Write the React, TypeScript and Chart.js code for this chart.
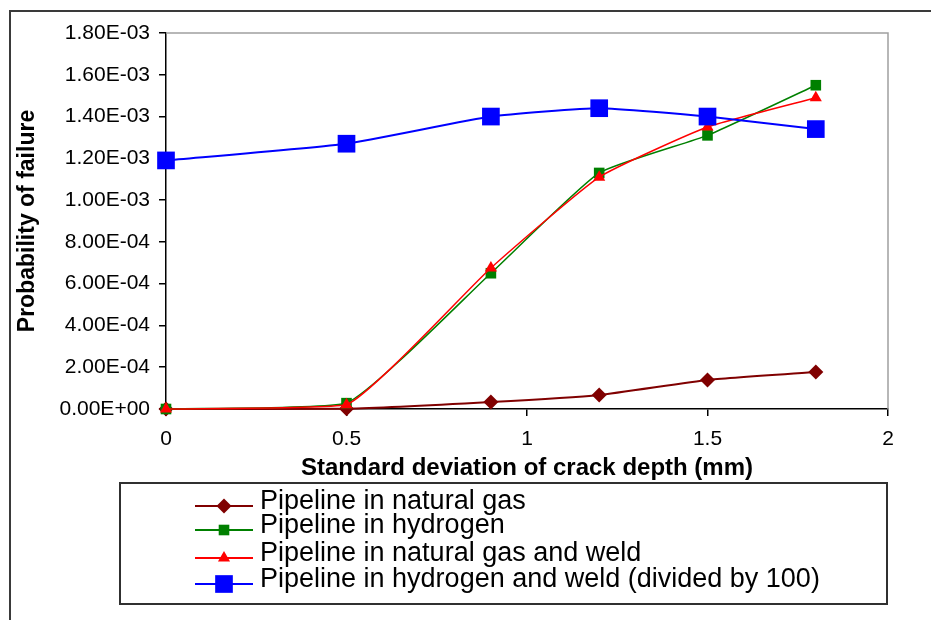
import React, { useEffect, useRef } from "react";
import { Chart, registerables } from "chart.js";
import { drawPoint } from "chart.js/helpers";

Chart.register(...registerables);

const xValues = [0, 0.5, 0.9, 1.2, 1.5, 1.8];
const naturalGas = [0, 0.000001, 0.000033, 0.000067, 0.000139, 0.000177];
const hydrogen = [0, 0.000028, 0.00065, 0.00113, 0.00131, 0.00155];
const naturalGasWeld = [0, 0.00002, 0.000675, 0.00111, 0.00135, 0.00149];
const hydrogenWeld = [0.00119, 0.00127, 0.0014, 0.00144, 0.0014, 0.00134];

const seriesLabels = [
  "Pipeline in natural gas",
  "Pipeline in hydrogen",
  "Pipeline in natural gas and weld",
  "Pipeline in hydrogen and weld (divided by 100)",
];
const xTicks = [0, 0.5, 1, 1.5, 2];
const yTickStep = 0.0002;
const yMax = 0.0018;
const xTitle = "Standard deviation of crack depth (mm)";
const yTitle = "Probability of failure";

const FONT = "'Liberation Sans', Arial, sans-serif";

function fmtExp(v: number): string {
  if (Math.abs(v) < 1e-12) return "0.00E+00";
  const s = v.toExponential(2);
  const [m, e] = s.split("e");
  const n = parseInt(e, 10);
  const sign = n < 0 ? "-" : "+";
  const d = String(Math.abs(n)).padStart(2, "0");
  return `${m}E${sign}${d}`;
}

const toPts = (ys: number[]) => xValues.map((x, i) => ({ x, y: ys[i] }));

const framePlugin = {
  id: "frame",
  beforeDraw(chart: any) {
    const ctx = chart.ctx;
    ctx.save();
    ctx.fillStyle = "#ffffff";
    ctx.fillRect(0, 0, chart.width, chart.height);
    ctx.strokeStyle = "#3a3a3a";
    ctx.lineWidth = 2;
    ctx.strokeRect(10, 11, 1000, 1000);
    ctx.restore();
  },
  beforeDatasetsDraw(chart: any) {
    const { ctx, chartArea } = chart;
    ctx.save();
    ctx.strokeStyle = "#a0a0a0";
    ctx.lineWidth = 1.5;
    ctx.beginPath();
    ctx.moveTo(chartArea.left, chartArea.top);
    ctx.lineTo(chartArea.right, chartArea.top);
    ctx.lineTo(chartArea.right, chartArea.bottom);
    ctx.stroke();
    ctx.restore();
  },
};

const legendPlugin = {
  id: "boxLegend",
  afterDraw(chart: any) {
    const ctx = chart.ctx;
    ctx.save();
    ctx.strokeStyle = "#303030";
    ctx.lineWidth = 2;
    ctx.strokeRect(120, 483, 767, 121);
    const rows = [506, 530, 558, 584];
    chart.data.datasets.forEach((ds: any, i: number) => {
      const y = rows[i];
      ctx.strokeStyle = ds.borderColor;
      ctx.lineWidth = 2;
      ctx.beginPath();
      ctx.moveTo(195, y);
      ctx.lineTo(253, y);
      ctx.stroke();
      ctx.fillStyle = ds.backgroundColor;
      ctx.strokeStyle = ds.borderColor;
      drawPoint(
        ctx,
        { pointStyle: ds.pointStyle, radius: ds.pointRadius, borderWidth: 0, rotation: 0 } as any,
        224,
        y
      );
      ctx.fillStyle = "#000";
      ctx.font = `27px ${FONT}`;
      ctx.textBaseline = "middle";
      ctx.textAlign = "left";
      ctx.fillText(ds.label, 260, y - 4);
    });
    ctx.restore();
  },
};

export default function App() {
  const ref = useRef<HTMLCanvasElement | null>(null);

  useEffect(() => {
    if (!ref.current) return;
    const mk = (
      label: string,
      data: number[],
      color: string,
      style: string,
      radius: number,
      width: number,
      order: number
    ) => ({
      label,
      data: toPts(data),
      borderColor: color,
      backgroundColor: color,
      pointStyle: style,
      pointRadius: radius,
      pointHoverRadius: radius,
      pointBorderWidth: 0,
      borderWidth: width,
      tension: 0.15,
      clip: false,
      order,
    });
    const chart = new Chart(ref.current, {
      type: "line",
      data: {
        datasets: [
          mk(seriesLabels[0], naturalGas, "#800000", "rectRot", 7.5, 2, 3),
          mk(seriesLabels[1], hydrogen, "#008000", "rect", 7.5, 1.5, 2),
          mk(seriesLabels[2], naturalGasWeld, "#ff0000", "triangle", 7, 1.5, 1),
          mk(seriesLabels[3], hydrogenWeld, "#0000ff", "rect", 12.5, 2, 0),
        ] as any,
      },
      options: {
        responsive: false,
        animation: false,
        events: [],
        layout: { padding: { left: 0, top: 33, right: 43, bottom: 137 } },
        plugins: {
          legend: { display: false },
          tooltip: { enabled: false },
        },
        scales: {
          x: {
            type: "linear",
            min: 0,
            max: 2,
            afterBuildTicks: (s: any) => {
              s.ticks = xTicks.map((v) => ({ value: v }));
            },
            afterFit: (s: any) => {
              s.height = 74;
            },
            ticks: {
              color: "#000",
              font: { family: FONT, size: 21 },
              padding: 11,
              maxRotation: 0,
              callback: (v: any) => String(v),
            },
            grid: {
              drawOnChartArea: false,
              drawTicks: true,
              tickLength: 7,
              color: "#000",
              lineWidth: 1.5,
            },
            border: { color: "#000", width: 1.5 },
            title: {
              display: true,
              text: xTitle,
              color: "#000",
              font: { family: FONT, size: 24, weight: "bold" },
              padding: { top: 0, bottom: 0 },
            },
          },
          y: {
            type: "linear",
            min: 0,
            max: yMax,
            ticks: {
              stepSize: yTickStep,
              color: "#000",
              font: { family: FONT, size: 21 },
              padding: 9,
              callback: (v: any) => fmtExp(Number(v)),
            },
            afterFit: (s: any) => {
              s.width = 166;
            },
            grid: {
              drawOnChartArea: false,
              drawTicks: true,
              tickLength: 7,
              color: "#000",
              lineWidth: 1.5,
            },
            border: { color: "#000", width: 1.5 },
            title: {
              display: true,
              text: yTitle,
              color: "#000",
              font: { family: FONT, size: 23, weight: "bold" },
              padding: { top: 14, bottom: 0 },
            },
          },
        },
      },
      plugins: [framePlugin, legendPlugin],
    });
    return () => chart.destroy();
  }, []);

  return (
    <div style={{ position: "absolute", left: 0, top: 0, width: 931, height: 620 }}>
      <canvas ref={ref} width={931} height={620} style={{ display: "block" }} />
    </div>
  );
}
